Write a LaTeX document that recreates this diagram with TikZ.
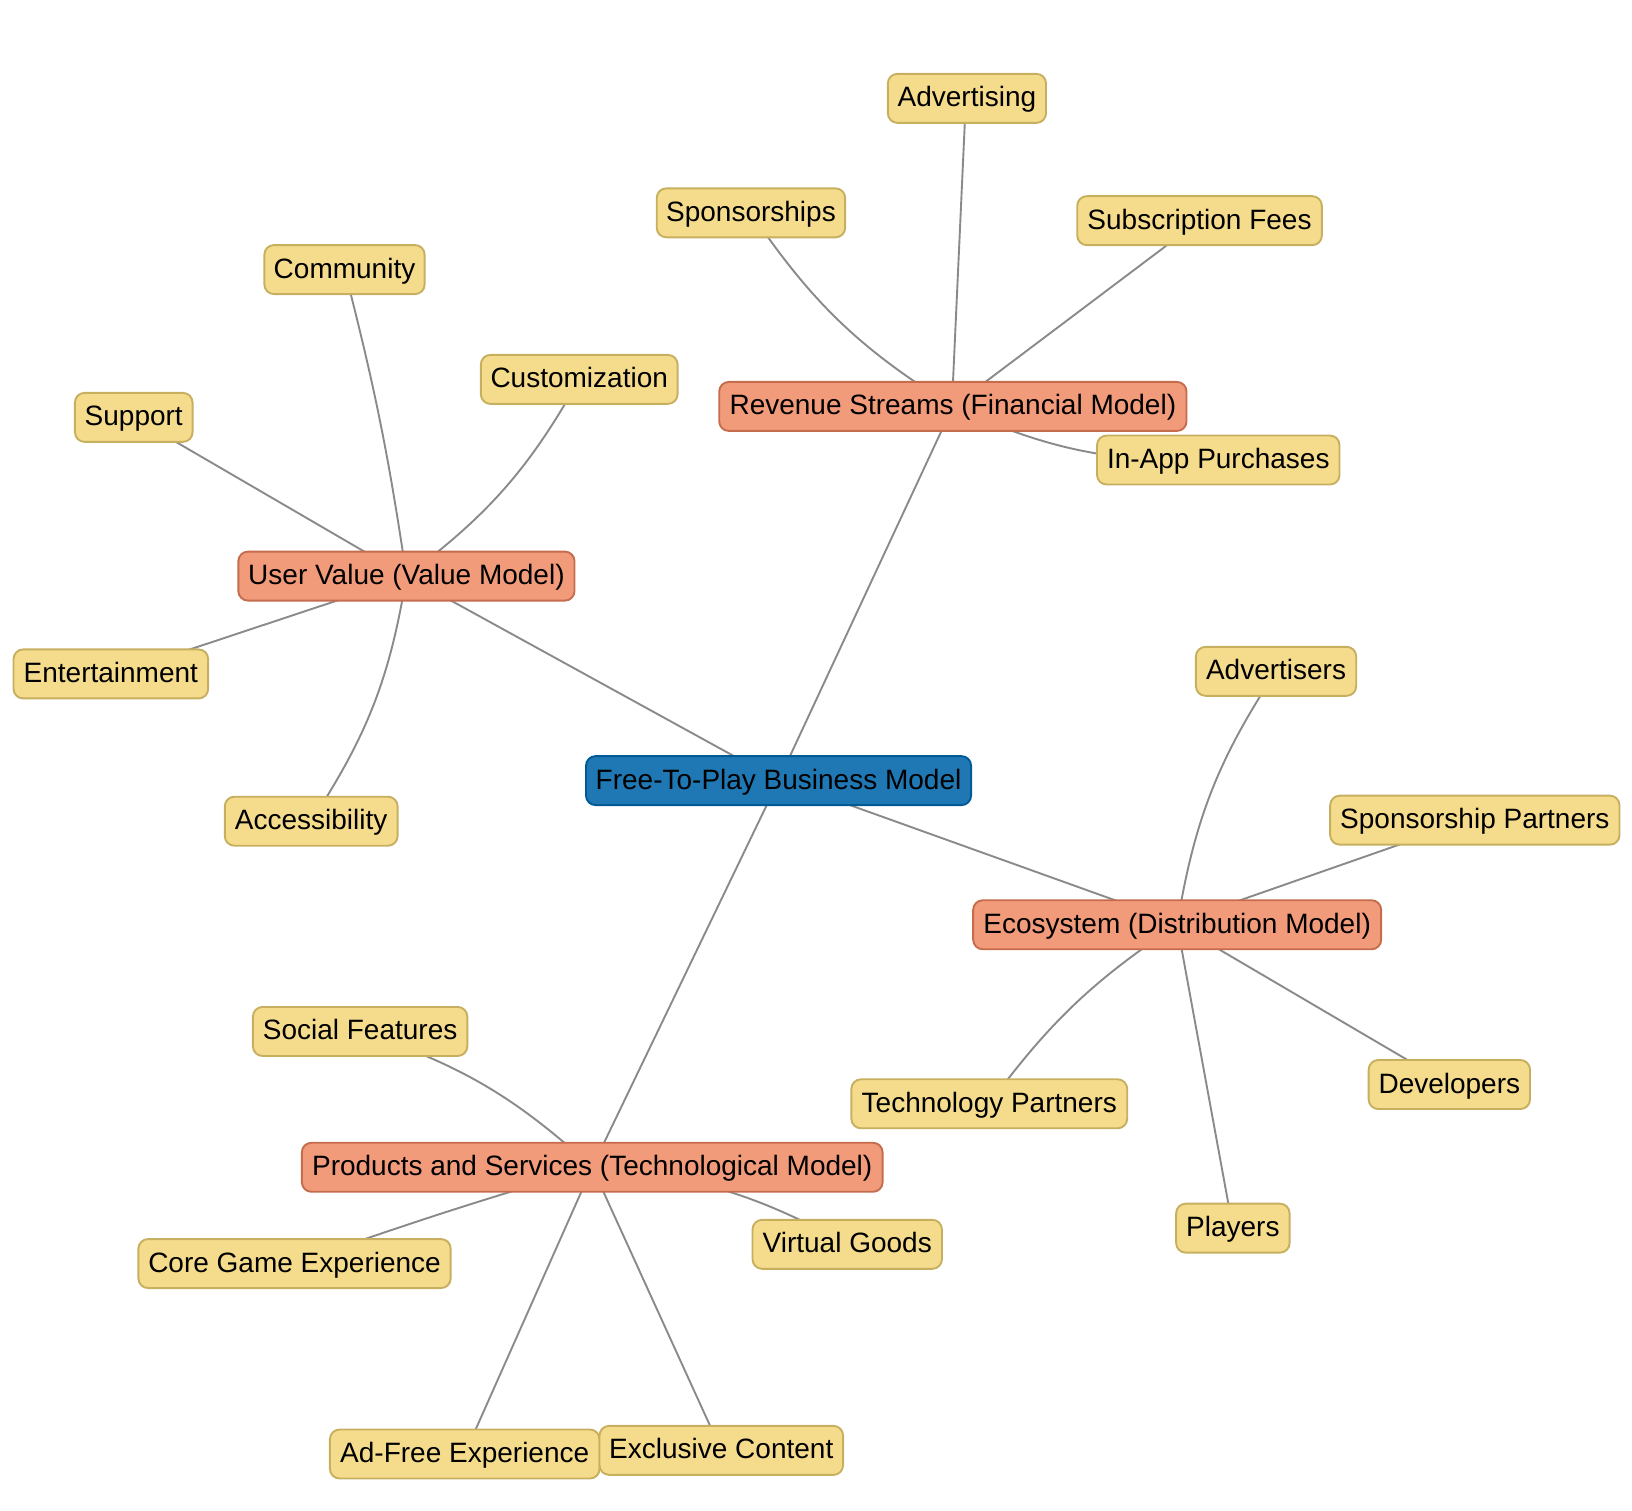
\documentclass[tikz,border=0pt]{standalone}
\usepackage{fontspec}
\setmainfont{Liberation Sans}
\usetikzlibrary{backgrounds}
\tikzset{
  x=0.5204pt,y=-0.5204pt,
  box/.style={rectangle,rounded corners=4.8pt,line width=0.95pt,inner sep=0pt,text height=16.5pt,text depth=8pt,text=black,font=\fontsize{14}{16}\selectfont},
  rootbox/.style={box,fill=rootfill,draw=rootline},
  midbox/.style={box,fill=midfill,draw=midline},
  leafbox/.style={box,fill=leaffill,draw=leafline},
  wd/.style={minimum width=#1*0.5204pt},
  link/.style={draw=linkgray,line width=0.95pt},
}
\definecolor{rootfill}{HTML}{1F77B4}
\definecolor{rootline}{HTML}{005A96}
\definecolor{midfill}{HTML}{F29B7B}
\definecolor{midline}{HTML}{C46C4C}
\definecolor{leaffill}{HTML}{F5DC8C}
\definecolor{leafline}{HTML}{C7AF60}
\definecolor{linkgray}{HTML}{8A8A8A}
\begin{document}
\begin{tikzpicture}
\useasboundingbox (0,0) rectangle (1568,1451);
\node[rootbox,wd=370] (root) at (748,750) {Free-To-Play Business Model};
\node[midbox,wd=449] (rev) at (915.5,390.5) {Revenue Streams (Financial Model)};
\node[midbox,wd=323] (usr) at (390.5,553.5) {User Value (Value Model)};
\node[midbox,wd=392] (eco) at (1131,888.5) {Ecosystem (Distribution Model)};
\node[midbox,wd=558] (prd) at (569,1121.5) {Products and Services (Technological Model)};
\node[leafbox,wd=152] (adv) at (929,94.5) {Advertising};
\node[leafbox,wd=181] (spo) at (721.5,204.5) {Sponsorships};
\node[leafbox,wd=235] (sub) at (1152.5,212) {Subscription Fees};
\node[leafbox,wd=233] (iap) at (1170.5,442) {In-App Purchases};
\node[leafbox,wd=154] (com) at (331,259) {Community};
\node[leafbox,wd=189] (cus) at (556.5,364.5) {Customization};
\node[leafbox,wd=113] (sup) at (128.5,401) {Support};
\node[leafbox,wd=187] (ent) at (106.5,647.5) {Entertainment};
\node[leafbox,wd=166] (acc) at (299,789) {Accessibility};
\node[leafbox,wd=154] (ads) at (1226,645) {Advertisers};
\node[leafbox,wd=278] (spp) at (1417,788) {Sponsorship Partners};
\node[leafbox,wd=265] (tec) at (950.5,1060.5) {Technology Partners};
\node[leafbox,wd=155] (dev) at (1392.5,1042) {Developers};
\node[leafbox,wd=109] (pla) at (1184.5,1180) {Players};
\node[leafbox,wd=206] (soc) at (346,991) {Social Features};
\node[leafbox,wd=300] (cor) at (283,1214) {Core Game Experience};
\node[leafbox,wd=182] (vir) at (814,1195.5) {Virtual Goods};
\node[leafbox,wd=259] (adf) at (446.5,1397) {Ad-Free Experience};
\node[leafbox,wd=234] (exc) at (693,1393.5) {Exclusive Content};
\begin{scope}[on background layer]
\draw[link] (root.center) -- (rev.center);
\draw[link] (root.center) -- (usr.center);
\draw[link] ([xshift=1.6pt]root.center) -- ([xshift=3.1pt]eco.center);
\draw[link] (root.center) -- (prd.center);
\draw[link] (rev.center) to[bend left=12] (spo.center);
\draw[link] ([xshift=-0.5pt]rev.center) -- ([xshift=-0.5pt]adv.center);
\draw[link] (rev.center) -- (sub.center);
\draw[link] (rev.center) to[bend right=13] (iap.center);
\draw[link] (usr.center) to[bend right=3] (com.center);
\draw[link] (usr.center) to[bend right=12] (cus.center);
\draw[link] (usr.center) -- (sup.center);
\draw[link] ([xshift=2.2pt]usr.center) -- ([xshift=2.6pt]ent.center);
\draw[link] (usr.center) to[bend left=12] (acc.center);
\draw[link] (eco.center) to[bend left=12] (ads.center);
\draw[link] ([xshift=-3.6pt]eco.center) -- ([xshift=-2.8pt]spp.center);
\draw[link] (eco.center) to[bend right=10] (tec.center);
\draw[link] (eco.center) -- (dev.center);
\draw[link] (eco.center) -- (pla.center);
\draw[link] (prd.center) to[bend right=12] (soc.center);
\draw[link] (prd.center) to[bend right=1.5] (cor.center);
\draw[link] (prd.center) to[bend left=12] (vir.center);
\draw[link] (prd.center) -- (adf.center);
\draw[link] (prd.center) -- (exc.center);
\end{scope}
\end{tikzpicture}
\end{document}
